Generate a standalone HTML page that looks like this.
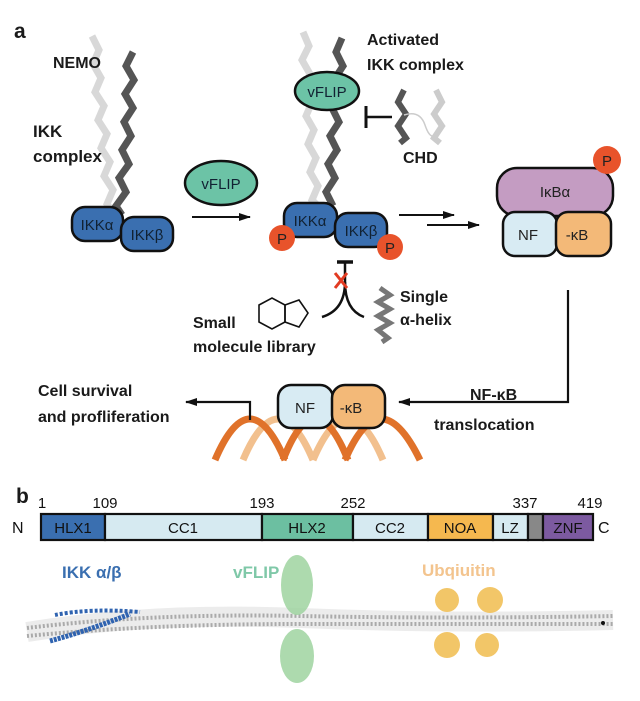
<!DOCTYPE html>
<html><head><meta charset="utf-8"><style>
html,body{margin:0;padding:0;background:#fff;width:640px;height:701px;overflow:hidden}
svg{display:block;font-family:"Liberation Sans",Arial,sans-serif}
.b{font-weight:bold;fill:#1a1a1a}
</style></head><body>
<svg width="640" height="701" viewBox="0 0 640 701">
<defs>
<marker id="ah" markerWidth="12" markerHeight="8" refX="11" refY="4" orient="auto" markerUnits="userSpaceOnUse"><path d="M0,0 L12,4 L0,8 z" fill="#111"/></marker>
</defs>
<text x="14" y="38" class="b" font-size="21">a</text>
<!-- NEMO helices left -->
<polyline points="92,36 99,50 93,64 101,78 95,92 104,106 98,120 107,134 101,148 110,162 104,176 113,190 107,204 115,215" fill="none" stroke="#d8d8d8" stroke-width="7"/>
<polyline points="133,52 126,66 134,80 125,94 133,108 124,122 131,136 122,150 129,164 119,178 126,192 116,206 122,215" fill="none" stroke="#555" stroke-width="7"/>
<text x="53" y="68" class="b" font-size="16">NEMO</text>
<text x="33" y="137" class="b" font-size="17">IKK</text>
<text x="33" y="162" class="b" font-size="17">complex</text>
<rect x="72" y="207" width="51" height="34" rx="13" fill="#3a6fb0" stroke="#111" stroke-width="2.5"/>
<rect x="121" y="217" width="52" height="34" rx="13" fill="#3a6fb0" stroke="#111" stroke-width="2.5"/>
<text x="97" y="230" font-size="15" fill="#123" text-anchor="middle">IKKα</text>
<text x="147" y="240" font-size="15" fill="#123" text-anchor="middle">IKKβ</text>
<ellipse cx="221" cy="183" rx="36" ry="22" fill="#6cc3a6" stroke="#111" stroke-width="2.5"/>
<text x="221" y="189" font-size="15" fill="#123" text-anchor="middle">vFLIP</text>
<line x1="192" y1="217" x2="250" y2="217" stroke="#111" stroke-width="2" marker-end="url(#ah)"/>
<!-- middle complex -->
<polyline points="303,32 309,46 302,60 310,74 304,88 312,102 306,116 314,130 308,144 316,158 310,172 318,186 312,200 318,206" fill="none" stroke="#d8d8d8" stroke-width="7"/>
<polyline points="342,38 336,52 343,66 334,80 341,94 332,108 339,122 330,136 337,150 328,164 335,178 326,192 333,206" fill="none" stroke="#555" stroke-width="7"/>
<ellipse cx="327" cy="91" rx="32" ry="19" fill="#6cc3a6" stroke="#111" stroke-width="2.5"/>
<text x="327" y="97" font-size="15" fill="#123" text-anchor="middle">vFLIP</text>
<text x="367" y="45" class="b" font-size="16">Activated</text>
<text x="367" y="70" class="b" font-size="16">IKK complex</text>
<line x1="366" y1="117" x2="392" y2="117" stroke="#111" stroke-width="2.5"/>
<line x1="366" y1="106" x2="366" y2="128" stroke="#111" stroke-width="3"/>
<polyline points="404,90 398,102 406,114 398,126 406,138 400,143" fill="none" stroke="#555" stroke-width="6"/>
<polyline points="436,90 442,102 434,114 442,126 434,138 440,143" fill="none" stroke="#ccc" stroke-width="6"/>
<path d="M404,115 Q420,110 425,125 T436,135" fill="none" stroke="#ccc" stroke-width="1.5"/>
<text x="403" y="163" class="b" font-size="16">CHD</text>
<rect x="284" y="203" width="53" height="34" rx="13" fill="#3a6fb0" stroke="#111" stroke-width="2.5"/>
<rect x="335" y="213" width="52" height="34" rx="13" fill="#3a6fb0" stroke="#111" stroke-width="2.5"/>
<text x="310" y="226" font-size="15" fill="#123" text-anchor="middle">IKKα</text>
<text x="361" y="236" font-size="15" fill="#123" text-anchor="middle">IKKβ</text>
<circle cx="282" cy="238" r="13" fill="#e8532b"/><text x="282" y="244" font-size="15" fill="#222" text-anchor="middle">P</text>
<circle cx="390" cy="247" r="13" fill="#e8532b"/><text x="390" y="253" font-size="15" fill="#222" text-anchor="middle">P</text>
<line x1="399" y1="215" x2="454" y2="215" stroke="#111" stroke-width="2" marker-end="url(#ah)"/>
<line x1="427" y1="225" x2="479" y2="225" stroke="#111" stroke-width="2" marker-end="url(#ah)"/>
<!-- IkBa complex -->
<rect x="497" y="168" width="116" height="48" rx="20" fill="#c49cc2" stroke="#111" stroke-width="2.5"/>
<text x="555" y="197" font-size="15" fill="#222" text-anchor="middle">IκBα</text>
<rect x="503" y="212" width="54" height="44" rx="12" fill="#d8ebf3" stroke="#111" stroke-width="2.5"/>
<rect x="556" y="212" width="55" height="44" rx="12" fill="#f3b978" stroke="#111" stroke-width="2.5"/>
<text x="528" y="240" font-size="15" fill="#222" text-anchor="middle">NF</text>
<text x="577" y="240" font-size="15" fill="#222" text-anchor="middle">-κB</text>
<circle cx="607" cy="160" r="14" fill="#e8532b"/><text x="607" y="166" font-size="15" fill="#222" text-anchor="middle">P</text>
<!-- inhibition in middle -->
<line x1="337" y1="262" x2="353" y2="262" stroke="#111" stroke-width="3.5"/>
<line x1="345" y1="262" x2="345" y2="285" stroke="#111" stroke-width="2.5"/>
<path d="M345,282 Q345,310 322,317 M345,282 Q345,310 364,317" fill="none" stroke="#111" stroke-width="2.5"/>
<path d="M335,273 L347,288 M347,273 L335,288" stroke="#e23b22" stroke-width="3"/>
<polygon points="259,305 272,298 285,305 285,322 272,329 259,322" fill="none" stroke="#111" stroke-width="1.6"/>
<polygon points="285,305 299,300 308,313 299,327 285,322" fill="none" stroke="#111" stroke-width="1.6"/>
<text x="193" y="328" class="b" font-size="16">Small</text>
<text x="193" y="352" class="b" font-size="16">molecule library</text>
<polyline points="380,288 390,295 378,302 390,309 378,316 390,323 378,330 388,338 382,342" fill="none" stroke="#777" stroke-width="5"/>
<text x="400" y="302" class="b" font-size="16">Single</text>
<text x="400" y="325" class="b" font-size="16">α-helix</text>
<!-- translocation -->
<polyline points="568,290 568,402 399,402" fill="none" stroke="#111" stroke-width="2.2" marker-end="url(#ah)"/>
<text x="470" y="400" class="b" font-size="16">NF-κB</text>
<text x="434" y="430" class="b" font-size="16">translocation</text>
<!-- DNA -->
<g fill="none" stroke-width="7">
<path d="M243,460 Q278,378 313,460" stroke="#f2c08e"/>
<path d="M313,460 Q348,378 383,460" stroke="#f2c08e"/>
<path d="M215,460 Q250,378 285,460" stroke="#e0722a"/>
<path d="M283,460 Q315,378 348,460" stroke="#e0722a"/>
<path d="M345,460 Q380,378 420,460" stroke="#e0722a"/>
</g>
<rect x="278" y="385" width="55" height="43" rx="13" fill="#d8ebf3" stroke="#111" stroke-width="2.5"/>
<rect x="332" y="385" width="53" height="43" rx="13" fill="#f3b978" stroke="#111" stroke-width="2.5"/>
<text x="305" y="413" font-size="15" fill="#222" text-anchor="middle">NF</text>
<text x="351" y="413" font-size="15" fill="#222" text-anchor="middle">-κB</text>
<polyline points="250,420 250,402 186,402" fill="none" stroke="#111" stroke-width="2.2" marker-end="url(#ah)"/>
<text x="38" y="396" class="b" font-size="16">Cell survival</text>
<text x="38" y="422" class="b" font-size="16">and profliferation</text>
<!-- panel b -->
<text x="16" y="503" class="b" font-size="21">b</text>
<g font-size="15" fill="#111" text-anchor="middle">
<text x="42" y="508">1</text><text x="105" y="508">109</text><text x="262" y="508">193</text><text x="353" y="508">252</text><text x="525" y="508">337</text><text x="590" y="508">419</text>
</g>
<text x="12" y="533" font-size="16" fill="#111">N</text>
<text x="598" y="533" font-size="16" fill="#111">C</text>
<g stroke="#111" stroke-width="2.2">
<rect x="41" y="514" width="64" height="26" fill="#3a6fb0"/>
<rect x="105" y="514" width="157" height="26" fill="#d6eaf1"/>
<rect x="262" y="514" width="91" height="26" fill="#6cbfa1"/>
<rect x="353" y="514" width="75" height="26" fill="#d6eaf1"/>
<rect x="428" y="514" width="65" height="26" fill="#f5b84f"/>
<rect x="493" y="514" width="35" height="26" fill="#d6eaf1"/>
<rect x="528" y="514" width="15" height="26" fill="#888"/>
<rect x="543" y="514" width="50" height="26" fill="#7c5aa0"/>
</g>
<g font-size="15" fill="#111" text-anchor="middle">
<text x="73" y="533">HLX1</text><text x="183" y="533">CC1</text><text x="307" y="533">HLX2</text><text x="390" y="533">CC2</text><text x="460" y="533">NOA</text><text x="510" y="533">LZ</text><text x="568" y="533">ZNF</text>
</g>
<text x="62" y="578" font-size="17" font-weight="bold" fill="#3a6fb0">IKK α/β</text>
<text x="233" y="578" font-size="17" font-weight="bold" fill="#7fc8a8">vFLIP</text>
<text x="422" y="576" font-size="17" font-weight="bold" fill="#f3c48e">Ubqiuitin</text>
<!-- ribbon -->
<g fill="none">
<path d="M27,632 Q150,612 300,618 T613,620" stroke="#ececec" stroke-width="20"/>
<path d="M27,628 Q150,613 300,616 T613,616" stroke="#aaa" stroke-width="4" stroke-dasharray="2,2"/>
<path d="M27,636 Q150,624 300,624 T613,624" stroke="#aaa" stroke-width="4" stroke-dasharray="2,2"/>
<path d="M50,641 Q90,630 130,614" stroke="#2f63b0" stroke-width="5" stroke-dasharray="3,1"/>
<path d="M55,615 Q90,608 140,612" stroke="#2f63b0" stroke-width="4" stroke-dasharray="3,2"/>
</g>
<ellipse cx="297" cy="585" rx="16" ry="30" fill="#9fd3a0" opacity="0.85"/>
<ellipse cx="297" cy="656" rx="17" ry="27" fill="#9fd3a0" opacity="0.85"/>
<g fill="#f1c058" opacity="0.9">
<circle cx="447" cy="600" r="12"/><circle cx="490" cy="600" r="13"/><circle cx="447" cy="645" r="13"/><circle cx="487" cy="645" r="12"/>
</g>
<circle cx="603" cy="623" r="2" fill="#111"/>
</svg>
</body></html>
